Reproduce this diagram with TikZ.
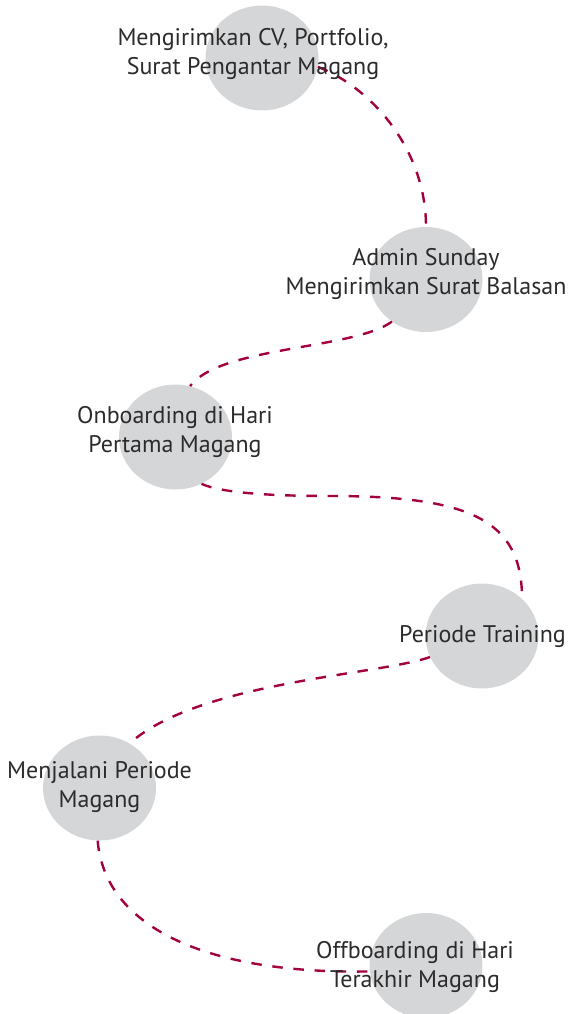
\documentclass[tikz,border=0pt]{standalone}
\usepackage{fontspec}
\setmainfont{PT Sans}
\usetikzlibrary{shapes.geometric}
\definecolor{lineRed}{HTML}{A3003F}
\definecolor{dotGray}{HTML}{D5D6D8}
\definecolor{txtGray}{HTML}{2B2B2B}
\begin{document}
\begin{tikzpicture}[x=1pt,y=-1pt,
  stepdot/.style={ellipse, fill=dotGray, draw=none, minimum width=113pt, minimum height=105pt, inner sep=0pt},
  steplabel/.style={align=center, inner sep=0pt, text=txtGray, font=\fontsize{24}{29}\selectfont},
  link/.style={draw=lineRed, line width=2.4pt, dash pattern=on 10.5pt off 10.7pt}]
\useasboundingbox (0,0) rectangle (568,1014);
% circles
\node[stepdot] (c1) at (262,58) {};
\node[stepdot] (c2) at (426,279.5) {};
\node[stepdot] (c3) at (175.5,437) {};
\node[stepdot] (c4) at (482,636) {};
\node[stepdot] (c5) at (99.5,788) {};
\node[stepdot] (c6) at (426,965.5) {};
\coordinate (bend3) at (330,496);
% connectors
\draw[link] (c1.351) .. controls +(54,21) and +(0,-77) .. (c2.90);
\draw[link] (c2.231) .. controls +(-38,28) and +(30,-40) .. (c3.74);
\draw[link] (c3.299) .. controls +(20,9) and +(-60,0) .. (bend3)
  .. controls +(140,0) and +(0,-79) .. (c4.43);
\draw[link] (c4.202) .. controls +(-50,18) and +(70,-62) .. (c5.56);
\draw[link] (c5.268) .. controls +(7,85) and +(-166,3) .. (c6.186);
% labels
\node[steplabel] (t1) at (253,54) {Mengirimkan CV, Portfolio,\\Surat Pengantar Magang};
\node[steplabel] (t2) at (426,273.5) {Admin Sunday\\Mengirimkan Surat Balasan};
\node[steplabel] (t3) at (175,431.5) {Onboarding di Hari\\Pertama Magang};
\node[steplabel] (t4) at (482.5,637) {Periode Training};
\node[steplabel] (t5) at (99.5,787.5) {Menjalani Periode\\Magang};
\node[steplabel] (t6) at (415,966.5) {Offboarding di Hari\\Terakhir Magang};
\end{tikzpicture}
\end{document}
